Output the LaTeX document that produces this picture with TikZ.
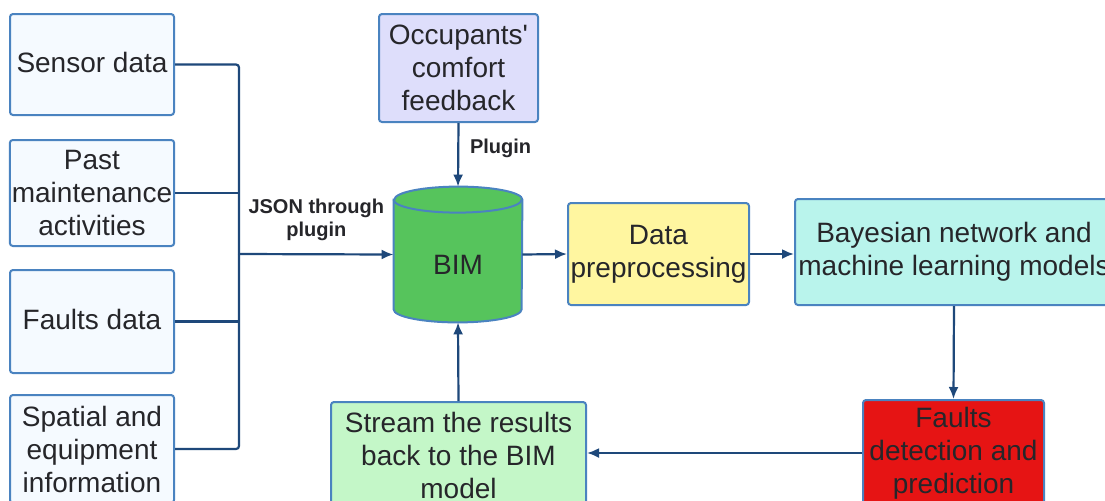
\documentclass[tikz,border=0pt]{standalone}
\usepackage{fontspec}
\setmainfont{Liberation Sans}
\usepackage{tikz}
\usetikzlibrary{arrows.meta}
\definecolor{boxline}{RGB}{74,131,192}
\definecolor{linkcol}{RGB}{30,72,122}
\definecolor{txt}{RGB}{38,38,42}
\definecolor{srcfill}{RGB}{245,250,255}
\definecolor{occfill}{RGB}{222,222,251}
\definecolor{bimfill}{RGB}{86,196,92}
\definecolor{prepfill}{RGB}{255,246,160}
\definecolor{modelfill}{RGB}{185,244,236}
\definecolor{faultfill}{RGB}{230,20,20}
\definecolor{streamfill}{RGB}{196,247,200}
\tikzset{box/.style={draw=boxline, line width=1pt, rounded corners=1.5pt, align=center, text=txt, inner sep=1pt, font=\fontsize{14}{16.5}\selectfont},
link/.style={draw=linkcol, line width=1.1pt, -{Latex[length=6pt,width=5pt]}, rounded corners=1.5pt},
lab/.style={text=txt, align=center, font=\bfseries\fontsize{10}{11.5}\selectfont}}

\begin{document}
\begin{tikzpicture}[x=0.5pt,y=-0.5pt]
\useasboundingbox (0,0) rectangle (1105,500);
\clip (0,0) rectangle (1105,500);
\fill[white] (0,0) rectangle (1105,500);
\node[box, fill=srcfill, minimum width=82pt, minimum height=50.5pt] (sensor) at (92,64.5) {\raisebox{2pt}{Sensor data}};
\node[box, fill=srcfill, minimum width=82pt, minimum height=53pt] (past) at (92,193) {Past\\maintenance\\activities};
\node[box, fill=srcfill, minimum width=82pt, minimum height=51.5pt] (fdata) at (92,321.5) {\raisebox{2pt}{Faults data}};
\node[box, fill=srcfill, minimum width=82pt, minimum height=54pt] (spatial) at (92,449) {Spatial and\\equipment\\information};
\node[box, fill=occfill, minimum width=79.5pt, minimum height=54pt] (occ) at (458.5,68) {Occupants\textquotesingle\\comfort\\feedback};
\node[minimum width=64pt, minimum height=67.5pt, inner sep=0pt] (bim) at (458,254.5) {};
\draw[draw=boxline, fill=bimfill, line width=1pt] ([yshift=-6.5pt]bim.north west) -- ([yshift=6.5pt]bim.south west) arc[start angle=180, end angle=360, x radius=32pt, y radius=6.5pt] -- ([yshift=-6.5pt]bim.north east) arc[start angle=0, end angle=180, x radius=32pt, y radius=6.5pt] -- cycle;
\draw[draw=boxline, line width=1pt] ([yshift=-6.5pt]bim.north west) arc[start angle=180, end angle=360, x radius=32pt, y radius=6.5pt];
\node[text=txt, font=\fontsize{14}{16.5}\selectfont] (bimtext) at ([yshift=-5pt]bim.center) {BIM};
\node[box, fill=prepfill, minimum width=90.5pt, minimum height=51pt] (prep) at (658.5,254) {Data\\preprocessing};
\node[box, fill=modelfill, minimum width=159pt, minimum height=53pt] (model) at (954,252) {Bayesian network and\\machine learning models};
\node[box, fill=faultfill, minimum width=90.5pt, minimum height=53pt] (fault) at (953.5,453) {Faults\\detection and\\prediction};
\node[box, fill=streamfill, minimum width=127.5pt, minimum height=53pt] (stream) at (458.5,455) {Stream the results\\back to the BIM\\model};
\coordinate (bus) at (239,254);
\draw[link, -] (sensor.east) -| (bus);
\draw[link, -] (spatial.east) -| (bus);
\draw[link, -] (past.east) -- (past.east -| bus);
\draw[link, -] (fdata.east) -- (fdata.east -| bus);
\draw[link] (bus) -- node[lab, above=3pt] {JSON through\\plugin} (bim.west);
\draw[link] (occ.south) -- node[lab, right=2pt, pos=0.4] {Plugin} (bim.north);
\draw[link] (bim.east) -- (prep.west);
\draw[link] (prep.east) -- (prep.east -| model.west);
\draw[link] (model.south) -- (fault.north);
\draw[link] (fault.west) -- (fault.west -| stream.east);
\draw[link] (stream.north) -- (bim.south);
\end{tikzpicture}
\end{document}
